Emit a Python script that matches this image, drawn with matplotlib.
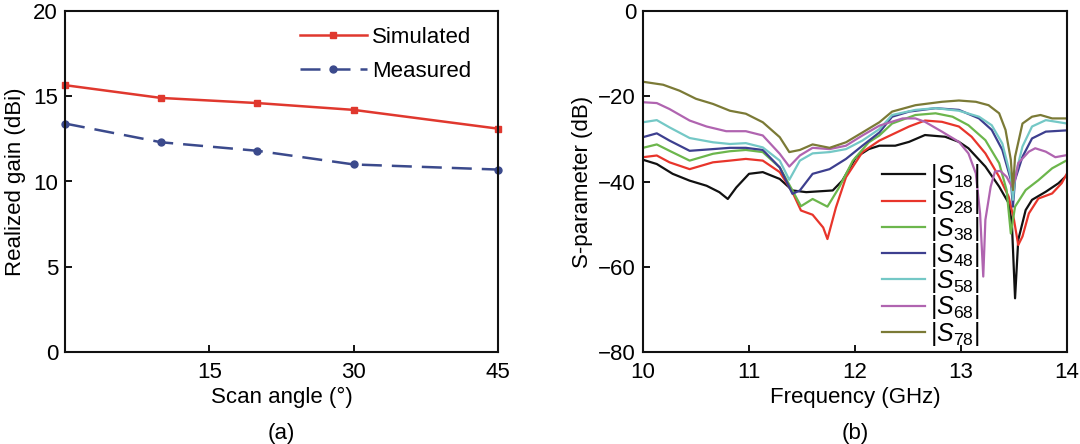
import numpy as np
import matplotlib
matplotlib.use("Agg")
import matplotlib.pyplot as plt

plt.rcParams['font.family'] = ['Liberation Sans', 'DejaVu Sans']
plt.rcParams['mathtext.fontset'] = 'custom'
plt.rcParams['mathtext.rm'] = 'Liberation Sans'
plt.rcParams['mathtext.it'] = 'Liberation Sans:italic'

# ---- panel (a): realized gain vs scan angle
angles = [0, 10, 20, 30, 45]
gain_sim = [15.65, 14.9, 14.6, 14.2, 13.1]
gain_meas = [13.4, 12.3, 11.8, 11.0, 10.7]

# ---- panel (b): coupling S-parameters (freq in GHz, value in dB)
s18_f = [10.0, 10.13, 10.28, 10.44, 10.60, 10.72, 10.80, 10.88, 11.0, 11.13, 11.29, 11.41, 11.54, 11.79,
         11.88, 12.01, 12.13, 12.23, 12.38, 12.51, 12.66, 12.85, 12.98, 13.07, 13.23, 13.36, 13.45, 13.48,
         13.51, 13.54, 13.61, 13.67, 13.80, 13.92, 14.0]
s18_db = [-34.9, -35.9, -38.2, -39.8, -41.0, -42.5, -44.1, -41.4, -38.2, -37.8, -39.4, -42.1, -42.5, -42.1,
          -39.8, -34.3, -32.4, -31.6, -31.6, -30.7, -29.1, -29.5, -30.7, -32.2, -36.5, -41.2, -45.1, -49.8,
          -67.4, -53.7, -46.7, -44.3, -42.4, -40.4, -38.5]

s28_f = [10.0, 10.13, 10.25, 10.44, 10.66, 10.82, 10.97, 11.13, 11.29, 11.41, 11.49, 11.60, 11.70, 11.74,
         11.82, 11.915, 12.07, 12.23, 12.51, 12.66, 12.82, 12.98, 13.10, 13.23, 13.36, 13.45, 13.50, 13.54,
         13.58, 13.64, 13.73, 13.86, 13.95, 14.0]
s28_db = [-34.3, -33.9, -35.5, -37.1, -35.5, -35.1, -34.7, -35.1, -37.8, -42.5, -46.8, -47.8, -50.8, -53.5,
          -46.1, -39.0, -33.1, -30.4, -27.1, -25.7, -26.0, -27.1, -29.5, -33.4, -38.9, -43.6, -49.0, -54.9,
          -52.9, -47.5, -44.0, -42.8, -40.4, -38.1]

s38_f = [10.0, 10.13, 10.25, 10.44, 10.66, 10.82, 10.97, 11.13, 11.29, 11.41, 11.49, 11.60, 11.74, 11.85,
         11.98, 12.13, 12.23, 12.35, 12.57, 12.76, 12.92, 13.07, 13.23, 13.36, 13.43, 13.47, 13.51, 13.61,
         13.73, 13.86, 14.0]
s38_db = [-32.1, -31.3, -32.8, -35.1, -33.5, -32.9, -32.6, -33.1, -36.7, -42.1, -45.8, -44.1, -45.9, -41.4,
          -35.1, -30.8, -29.2, -26.4, -24.4, -24.0, -24.8, -26.8, -30.3, -35.7, -42.0, -52.2, -45.9, -42.0,
          -39.7, -36.9, -35.0]

s48_f = [10.0, 10.13, 10.25, 10.44, 10.66, 10.82, 10.97, 11.13, 11.29, 11.41, 11.48, 11.60, 11.76, 11.915,
         12.07, 12.23, 12.35, 12.51, 12.76, 12.98, 13.17, 13.29, 13.39, 13.47, 13.49, 13.51, 13.58, 13.67,
         13.80, 14.0]
s48_db = [-29.6, -28.7, -30.4, -32.8, -32.4, -32.1, -32.1, -32.6, -36.7, -42.9, -42.1, -38.2, -37.1, -34.7,
          -31.6, -28.5, -24.8, -23.6, -22.8, -23.2, -25.2, -27.9, -32.6, -39.6, -45.9, -39.6, -34.2, -29.9,
          -28.3, -28.0]

s58_f = [10.0, 10.13, 10.25, 10.44, 10.66, 10.82, 10.97, 11.13, 11.29, 11.38, 11.48, 11.60, 11.76, 11.915,
         12.07, 12.23, 12.35, 12.57, 12.76, 12.98, 13.17, 13.29, 13.39, 13.47, 13.49, 13.51, 13.58, 13.67,
         13.80, 14.0]
s58_db = [-26.1, -25.6, -27.3, -29.8, -30.8, -31.2, -31.0, -32.0, -35.1, -39.6, -35.1, -33.4, -33.1, -32.4,
          -30.4, -27.7, -24.4, -23.2, -22.8, -23.4, -24.8, -26.8, -31.1, -38.9, -44.3, -38.9, -31.8, -27.1,
          -25.6, -26.4]

s68_f = [10.0, 10.13, 10.25, 10.44, 10.60, 10.785, 10.97, 11.13, 11.29, 11.38, 11.48, 11.60, 11.76, 11.915,
         12.07, 12.23, 12.45, 12.57, 12.66, 12.82, 12.98, 13.07, 13.14, 13.18, 13.21, 13.23, 13.28, 13.32,
         13.37, 13.43, 13.48, 13.51, 13.54, 13.64, 13.70, 13.80, 13.89, 14.0]
s68_db = [-21.4, -21.6, -23.0, -25.7, -27.1, -28.2, -28.2, -29.2, -33.5, -36.5, -33.9, -32.1, -32.4, -31.6,
          -29.2, -26.9, -25.2, -25.2, -26.0, -28.3, -30.7, -33.4, -38.1, -47.5, -62.3, -49.0, -41.2, -37.7,
          -37.5, -38.9, -41.2, -39.6, -35.7, -33.0, -32.2, -33.0, -34.3, -33.8]

s78_f = [10.0, 10.19, 10.345, 10.50, 10.66, 10.82, 10.97, 11.13, 11.29, 11.38, 11.48, 11.60, 11.76, 11.915,
         12.07, 12.23, 12.35, 12.57, 12.82, 12.98, 13.14, 13.26, 13.36, 13.42, 13.47, 13.49, 13.51, 13.58,
         13.67, 13.75, 13.86, 14.0]
s78_db = [-16.6, -17.3, -18.7, -20.6, -21.8, -23.4, -24.1, -26.1, -29.6, -33.1, -32.6, -31.3, -32.1, -30.8,
          -28.5, -26.1, -23.6, -22.1, -21.3, -21.0, -21.3, -22.1, -24.0, -27.9, -34.9, -42.0, -34.2, -26.4,
          -24.8, -24.4, -25.2, -25.2]

s_labels = ['18', '28', '38', '48', '58', '68', '78']
s_colors = ['#111111', '#e8352b', '#6cb64c', '#3d3f8f', '#74c8c6', '#b064b0', '#7b7a36']

fig = plt.figure(figsize=(10.8, 4.44), dpi=100)
ax1 = fig.add_axes([65 / 1080, 92 / 444, 433 / 1080, 341 / 444])
ax2 = fig.add_axes([643 / 1080, 92 / 444, 424 / 1080, 341 / 444])

for ax in (ax1, ax2):
    for sp in ax.spines.values():
        sp.set_linewidth(1.5)
        sp.set_color('#111111')
    ax.tick_params(direction='in', length=5, width=1.3, labelsize=16, top=False, right=False)
    ax.tick_params(axis='x', pad=7)
    ax.tick_params(axis='y', pad=5)

# panel (a)
ax1.plot(angles, gain_sim, color='#e0382e', lw=1.8, marker='s', ms=5, label='Simulated', clip_on=False)
ax1.plot(angles, gain_meas, color='#3b4a8c', lw=1.8, ls=(0, (8, 4)), marker='o', ms=5,
         label='Measured', clip_on=False)
ax1.set_xlim(0, 45)
ax1.set_ylim(0, 20)
ax1.set_xticks([15, 30, 45])
ax1.set_yticks([0, 5, 10, 15, 20])
ax1.set_xlabel('Scan angle (°)', fontsize=16, labelpad=3)
ax1.set_ylabel('Realized gain (dBi)', fontsize=16, labelpad=5)
ax1.legend(loc='upper right', frameon=False, fontsize=16, handlelength=3.0, handletextpad=0.25,
           labelspacing=0.6, bbox_to_anchor=(0.975, 1.0), borderaxespad=0.3)
fig.text(281 / 1080, 1 - 433 / 444, '(a)', ha='center', va='center', fontsize=16)

# panel (b)
curves = [(s18_f, s18_db), (s28_f, s28_db), (s38_f, s38_db), (s48_f, s48_db),
          (s58_f, s58_db), (s68_f, s68_db), (s78_f, s78_db)]
for (f, db), lab, c in zip(curves, s_labels, s_colors):
    ax2.plot(f, db, color=c, lw=1.6, label=r'$|S_{%s}|$' % lab)
ax2.set_xlim(10, 14)
ax2.set_ylim(-80, 0)
ax2.set_xticks([10, 11, 12, 13, 14])
ax2.set_yticks([-80, -60, -40, -20, 0])
ax2.set_yticklabels(['\u221280', '\u221260', '\u221240', '\u221220', '0'])
ax2.set_xlabel('Frequency (GHz)', fontsize=16, labelpad=3)
ax2.set_ylabel('S-parameter (dB)', fontsize=16, labelpad=4)
ax2.legend(loc='upper left', bbox_to_anchor=(882 / 1080, 1 - 162 / 444), bbox_transform=fig.transFigure,
           frameon=False, fontsize=18, handlelength=1.7, handletextpad=0.2, labelspacing=-0.07,
           borderpad=0, borderaxespad=0)
fig.text(855 / 1080, 1 - 433 / 444, '(b)', ha='center', va='center', fontsize=16)

fig.savefig('out.png', dpi=100)
